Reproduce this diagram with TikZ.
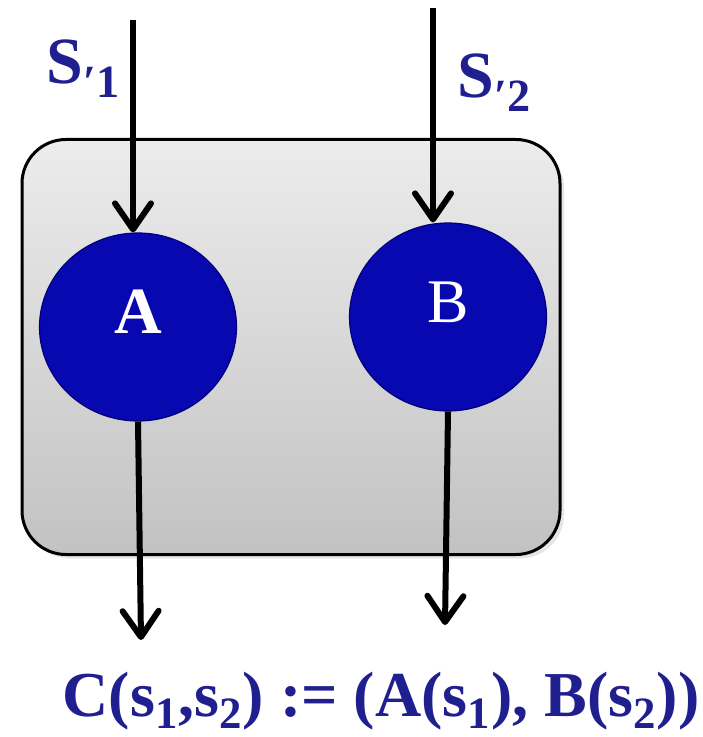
\documentclass[tikz,border=0pt]{standalone}
\usepackage{fontspec}
\setmainfont{Liberation Serif}
\usetikzlibrary{arrows.meta,positioning,calc,shapes.geometric,shadows}
\definecolor{cnavy}{HTML}{1F1F8F}
\definecolor{cblue}{HTML}{0808B0}
\definecolor{cdblue}{HTML}{00007A}
\definecolor{ltop}{HTML}{ECECEC}
\definecolor{lbot}{HTML}{C2C2C2}
\tikzset{
 compbox/.style={draw=black,line width=1.5pt,rounded corners=22pt,minimum width=269pt,
   minimum height=207.5pt,top color=ltop,bottom color=lbot,
   drop shadow={opacity=0.2,shadow xshift=2pt,shadow yshift=-2pt}},
 blob/.style={ellipse,draw=cdblue,line width=0.6pt,fill=cblue,minimum width=98.5pt,
   minimum height=94pt,inner sep=0pt},
 blobtext/.style={text=white,yshift=7.5pt,inner sep=0pt},
 stream/.style={-{Straight Barb[length=13pt,width=18pt,line cap=round,line join=round]},
   line width=3pt},
 lbl/.style={text=cnavy,font=\bfseries\fontsize{33}{33}\selectfont,anchor=base west,inner sep=0pt}
}
\begin{document}
\begin{tikzpicture}[x=0.5pt,y=-0.5pt]
 \useasboundingbox (0,0) rectangle (702,737);
 \node[compbox] (comp) at (291,347) {};
 \node[blob,label={[blobtext,font=\bfseries\fontsize{33}{33}\selectfont]center:A}] (a) at (138,327) {};
 \node[blob,label={[blobtext,font=\fontsize{31}{31}\selectfont]center:B}] (b) at (448,317) {};
 \coordinate (ain) at (133,20);
 \coordinate (aout) at (141,640);
 \coordinate (bin) at (433,8);
 \coordinate (bout) at (445,625);
 \draw[stream] (ain) -- (ain |- a.north);
 \draw[stream] (a.south) -- (aout);
 \draw[stream] (bin) -- (bin |- b.north);
 \draw[stream] (b.south) -- (bout);
 \node[lbl] (s1) at (46,84) {S\textsubscript{′1}};
 \node[lbl] (s2) at (457,98) {S\textsubscript{′2}};
 \node[text=cnavy,font=\bfseries\fontsize{32}{32}\selectfont,anchor=base,inner sep=0pt] (eq)
   at (381,716) {C(s\textsubscript{1},s\textsubscript{2}) := (A(s\textsubscript{1}), B(s\textsubscript{2}))};
\end{tikzpicture}
\end{document}
